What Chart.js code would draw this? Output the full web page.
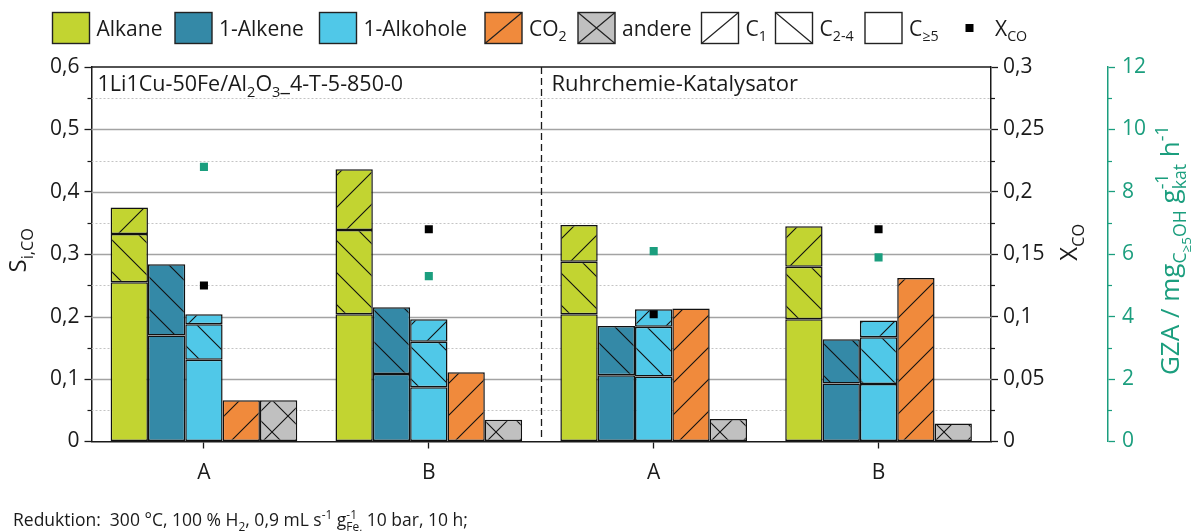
<!DOCTYPE html>
<html>
<head>
<meta charset="utf-8">
<script src="https://cdn.jsdelivr.net/npm/chart.js@4.4.1/dist/chart.umd.min.js"></script>
<style>
  html, body { margin: 0; padding: 0; background: #fff; overflow: hidden; }
  canvas { display: block; }
</style>
</head>
<body>
<canvas id="c" width="1195" height="531"></canvas>
<script>
// Categories: two tests (A, B) for each catalyst
const categories = ['A', 'B', 'A', 'B'];

// Selectivities S_i,CO split by carbon number
const alkaneC5  = [0.255, 0.204, 0.204, 0.196];
const alkaneC24 = [0.0775, 0.135, 0.084, 0.084];
const alkaneC1  = [0.0425, 0.097, 0.059, 0.065];

const alkeneC5  = [0.170, 0.108, 0.106, 0.093];
const alkeneC24 = [0.114, 0.107, 0.079, 0.071];

const alkoholC5  = [0.131, 0.087, 0.104, 0.092];
const alkoholC24 = [0.057, 0.073, 0.080, 0.075];
const alkoholC1  = [0.016, 0.036, 0.028, 0.027];

const co2    = [0.066, 0.111, 0.213, 0.262];
const andere = [0.066, 0.035, 0.036, 0.029];

// CO conversion (right axis) and space-time yield of C>=5 alcohols (green axis)
const xco = [0.125, 0.170, 0.102, 0.170];
const gza = [8.8, 5.3, 6.1, 5.9];

const FONT = '"Open Sans", "Noto Sans", sans-serif';
const INK = '#1a1a1a';
const GREEN = '#1b9e7e';
const COL = {
  alkane: '#c2d431',
  alkene: '#3489a7',
  alkohol: '#50c8e8',
  co2: '#f08a3c',
  andere: '#c0c0c0'
};

const canvas = document.getElementById('c');
const ctx0 = canvas.getContext('2d');

// Hatched fills: '/', '\\' or 'x' drawn on a repeating tile
function hatch(bg, kind) {
  const s = 32;
  const c = document.createElement('canvas');
  c.width = s; c.height = s;
  const g = c.getContext('2d');
  g.fillStyle = bg;
  g.fillRect(0, 0, s, s);
  g.strokeStyle = '#111';
  g.lineWidth = 1.1;
  g.beginPath();
  if (kind === '/' || kind === 'x') {
    g.moveTo(-2, s + 2); g.lineTo(s + 2, -2);
    g.moveTo(-2, 2); g.lineTo(2, -2);
    g.moveTo(s - 2, s + 2); g.lineTo(s + 2, s - 2);
  }
  if (kind === '\\' || kind === 'x') {
    g.moveTo(-2, -2); g.lineTo(s + 2, s + 2);
    g.moveTo(s - 2, -2); g.lineTo(s + 2, 2);
    g.moveTo(-2, s - 2); g.lineTo(2, s + 2);
  }
  g.stroke();
  return ctx0.createPattern(c, 'repeat');
}

// Rich text with sub-/superscripts
function segFont(px) { return px + 'px ' + FONT; }
function segWidth(ctx, seg, size) {
  if (typeof seg === 'string') { ctx.font = segFont(size); return ctx.measureText(seg).width; }
  let w = 0;
  if (seg.sub !== undefined) { ctx.font = segFont(size * 0.68); w = Math.max(w, ctx.measureText(seg.sub).width); }
  if (seg.sup !== undefined) { ctx.font = segFont(size * 0.68); w = Math.max(w, ctx.measureText(seg.sup).width); }
  if (seg.subsub !== undefined) { ctx.font = segFont(size * 0.52); w = Math.max(w, ctx.measureText(seg.subsub).width); }
  return w;
}
function richWidth(ctx, segs, size) {
  return segs.reduce((a, s) => a + segWidth(ctx, s, size), 0);
}
function drawRich(ctx, segs, x, y, size, color, align) {
  ctx.save();
  ctx.fillStyle = color;
  ctx.textBaseline = 'alphabetic';
  ctx.textAlign = 'left';
  let cx = x;
  if (align === 'center') cx -= richWidth(ctx, segs, size) / 2;
  for (const seg of segs) {
    const w = segWidth(ctx, seg, size);
    if (typeof seg === 'string') {
      ctx.font = segFont(size);
      ctx.fillText(seg, cx, y);
    } else {
      if (seg.sub !== undefined) { ctx.font = segFont(size * 0.68); ctx.fillText(seg.sub, cx, y + size * 0.28); }
      if (seg.sup !== undefined) { ctx.font = segFont(size * 0.68); ctx.fillText(seg.sup, cx, y - size * 0.42); }
      if (seg.subsub !== undefined) { ctx.font = segFont(size * 0.52); ctx.fillText(seg.subsub, cx, y + size * 0.45); }
    }
    cx += w;
  }
  ctx.restore();
}
function drawRichRotated(ctx, segs, x, y, size, color) {
  ctx.save();
  ctx.translate(x, y);
  ctx.rotate(-Math.PI / 2);
  drawRich(ctx, segs, 0, 0, size, color, 'center');
  ctx.restore();
}

function fmt(v) {
  if (Math.abs(v) < 1e-9) return '0';
  return String(+v.toFixed(3)).replace('.', ',');
}

// Grid lines, frame, separator and minor ticks
const decor = {
  id: 'decor',
  beforeDatasetsDraw(chart) {
    const { ctx, chartArea: a, scales } = chart;
    const y = scales.y;
    ctx.save();
    for (let i = 1; i <= 11; i++) {
      const v = i * 0.05;
      const py = Math.round(y.getPixelForValue(v)) + 0.5;
      ctx.beginPath();
      if (i % 2 === 0) {
        ctx.setLineDash([]);
        ctx.strokeStyle = '#a3a3a3';
        ctx.lineWidth = 1.4;
      } else {
        ctx.setLineDash([2, 2]);
        ctx.strokeStyle = '#c4c4c4';
        ctx.lineWidth = 1;
      }
      ctx.moveTo(a.left, py);
      ctx.lineTo(a.right, py);
      ctx.stroke();
    }
    ctx.restore();
  },
  afterDatasetsDraw(chart) {
    const { ctx, chartArea: a, scales } = chart;
    const x = scales.x, y = scales.y, yX = scales.yX, yG = scales.yG;
    ctx.save();
    // top frame
    ctx.strokeStyle = INK;
    ctx.lineWidth = 1.5;
    ctx.beginPath();
    ctx.moveTo(a.left, a.top);
    ctx.lineTo(a.right, a.top);
    ctx.stroke();
    // separator between the two catalysts
    const sx = Math.round((x.getPixelForValue(1) + x.getPixelForValue(2)) / 2) + 0.5;
    ctx.setLineDash([7, 4]);
    ctx.lineWidth = 1.3;
    ctx.beginPath();
    ctx.moveTo(sx, a.top);
    ctx.lineTo(sx, a.bottom);
    ctx.stroke();
    ctx.setLineDash([]);
    // minor ticks
    const minor = (scale, vals, dir, color) => {
      ctx.strokeStyle = color;
      ctx.lineWidth = 1.2;
      const x0 = dir < 0 ? scale.right : scale.left;
      for (const v of vals) {
        const py = Math.round(scale.getPixelForValue(v)) + 0.5;
        ctx.beginPath();
        ctx.moveTo(x0, py);
        ctx.lineTo(x0 + dir * 4, py);
        ctx.stroke();
      }
    };
    minor(y, [0.05, 0.15, 0.25, 0.35, 0.45, 0.55], -1, INK);
    minor(yX, [0.025, 0.075, 0.125, 0.175, 0.225, 0.275], 1, INK);
    minor(yG, [1, 3, 5, 7, 9, 11], 1, GREEN);

    // panel titles
    drawRich(ctx, ['1Li1Cu-50Fe/Al', { sub: '2' }, 'O', { sub: '3' }, '_4-T-5-850-0'], a.left + 6, a.top + 24, 21.5, INK, 'left');
    drawRich(ctx, ['Ruhrchemie-Katalysator'], sx + 10, a.top + 24, 22, INK, 'left');
    ctx.restore();
  },
  afterDraw(chart) {
    const { ctx, chartArea: a } = chart;
    ctx.save();
    // axis titles
    drawRichRotated(ctx, ['S', { sub: 'i,CO' }], 26, (a.top + a.bottom) / 2 - 4, 24, INK);
    drawRichRotated(ctx, ['X', { sub: 'CO' }], 1077, (a.top + a.bottom) / 2 - 12, 24, INK);
    drawRichRotated(ctx, ['GZA / mg', { sub: 'C' }, { subsub: '≥5' }, { sub: 'OH' }, ' g', { sub: 'kat', sup: '-1' }, ' h', { sup: '-1' }],
      1179, (a.top + a.bottom) / 2 - 4, 26, GREEN);

    // legend: swatch left edges along the top row
    const items = [
      { at: 52.5, fill: COL.alkane, text: ['Alkane'] },
      { at: 175, fill: COL.alkene, text: ['1-Alkene'] },
      { at: 319.5, fill: COL.alkohol, text: ['1-Alkohole'] },
      { at: 485, fill: COL.co2, lines: '/', text: ['CO', { sub: '2' }] },
      { at: 578, fill: COL.andere, lines: 'x', text: ['andere'] },
      { at: 701.5, fill: '#ffffff', lines: '/', text: ['C', { sub: '1' }] },
      { at: 775.5, fill: '#ffffff', lines: '\\', text: ['C', { sub: '2-4' }] },
      { at: 865, fill: '#ffffff', text: ['C', { sub: '≥5' }] },
      { at: 952, marker: true, text: ['X', { sub: 'CO' }] }
    ];
    const sw = 37, sh = 31, top = 12.5, size = 21;
    for (const it of items) {
      const lx = it.at;
      if (it.marker) {
        ctx.fillStyle = '#000';
        ctx.fillRect(lx + 17.5 - 4, top + sh / 2 - 4, 8, 8);
        drawRich(ctx, it.text, lx + 43, top + sh / 2 + 7.5, size, INK, 'left');
        continue;
      }
      ctx.fillStyle = it.fill;
      ctx.fillRect(lx, top, sw, sh);
      ctx.strokeStyle = '#222';
      ctx.lineWidth = 1.2;
      ctx.beginPath();
      if (it.lines === '/' || it.lines === 'x') { ctx.moveTo(lx, top + sh); ctx.lineTo(lx + sw, top); }
      if (it.lines === '\\' || it.lines === 'x') { ctx.moveTo(lx, top); ctx.lineTo(lx + sw, top + sh); }
      ctx.stroke();
      ctx.lineWidth = 1.4;
      ctx.strokeRect(lx, top, sw, sh);
      drawRich(ctx, it.text, lx + sw + 7, top + sh / 2 + 7.5, size, INK, 'left');
    }

    // footnote
    drawRich(ctx, ['Reduktion:  300 °C, 100 % H', { sub: '2' }, ', 0,9 mL s', { sup: '-1' }, ' g', { sub: 'Fe,', sup: '-1' }, ' 10 bar, 10 h;'],
      13, 526, 17.5, INK, 'left');
    ctx.restore();
  }
};

const bar = { type: 'bar', borderColor: '#111', borderWidth: 1.5, borderSkipped: false, yAxisID: 'y', order: 2 };

const data = {
  labels: categories,
  datasets: [
    { ...bar, label: 'Alkane C≥5', data: alkaneC5, stack: 'alkane', backgroundColor: COL.alkane },
    { ...bar, label: 'Alkane C2-4', data: alkaneC24, stack: 'alkane', backgroundColor: hatch(COL.alkane, '\\') },
    { ...bar, label: 'Alkane C1', data: alkaneC1, stack: 'alkane', backgroundColor: hatch(COL.alkane, '/') },
    { ...bar, label: '1-Alkene C≥5', data: alkeneC5, stack: 'alkene', backgroundColor: COL.alkene },
    { ...bar, label: '1-Alkene C2-4', data: alkeneC24, stack: 'alkene', backgroundColor: hatch(COL.alkene, '\\') },
    { ...bar, label: '1-Alkohole C≥5', data: alkoholC5, stack: 'alkohol', backgroundColor: COL.alkohol },
    { ...bar, label: '1-Alkohole C2-4', data: alkoholC24, stack: 'alkohol', backgroundColor: hatch(COL.alkohol, '\\') },
    { ...bar, label: '1-Alkohole C1', data: alkoholC1, stack: 'alkohol', backgroundColor: hatch(COL.alkohol, '/') },
    { ...bar, label: 'CO2', data: co2, stack: 'co2', backgroundColor: hatch(COL.co2, '/') },
    { ...bar, label: 'andere', data: andere, stack: 'andere', backgroundColor: hatch(COL.andere, 'x') },
    { type: 'line', label: 'X_CO', data: xco, yAxisID: 'yX', showLine: false, pointStyle: 'rect',
      pointRadius: 5.7, pointHoverRadius: 5.7, pointBorderWidth: 0, backgroundColor: '#000', borderColor: '#000', order: 0 },
    { type: 'line', label: 'GZA', data: gza, yAxisID: 'yG', showLine: false, pointStyle: 'rect',
      pointRadius: 5.7, pointHoverRadius: 5.7, pointBorderWidth: 0, backgroundColor: GREEN, borderColor: GREEN, order: 0 }
  ]
};

const tickFont = { family: FONT, size: 21 };

new Chart(canvas, {
  data,
  options: {
    responsive: false,
    animation: false,
    devicePixelRatio: 1,
    layout: { padding: { top: 67, left: 0, right: 0, bottom: 0 } },
    datasets: { bar: { categoryPercentage: 0.83, barPercentage: 1.0 } },
    plugins: { legend: { display: false }, tooltip: { enabled: false } },
    scales: {
      x: {
        stacked: true,
        grid: { drawOnChartArea: false, offset: false, tickLength: 7, tickColor: INK, tickWidth: 1.3 },
        border: { color: INK, width: 1.5 },
        ticks: { color: INK, font: tickFont, padding: 12 },
        afterFit: s => { s.height = 89.5; }
      },
      y: {
        position: 'left', stacked: true, min: 0, max: 0.6,
        ticks: { stepSize: 0.1, color: INK, font: tickFont, padding: 5, callback: v => fmt(v) },
        grid: { drawOnChartArea: false, tickLength: 7, tickColor: INK, tickWidth: 1.3 },
        border: { color: INK, width: 1.5 },
        afterFit: s => { s.width = 91.5; }
      },
      yX: {
        position: 'right', weight: 0, min: 0, max: 0.3,
        ticks: { stepSize: 0.05, color: INK, font: tickFont, padding: 5, callback: v => fmt(v) },
        grid: { drawOnChartArea: false, tickLength: 7, tickColor: INK, tickWidth: 1.3 },
        border: { color: INK, width: 1.5 },
        afterFit: s => { s.width = 117; }
      },
      yG: {
        position: 'right', weight: 1, min: 0, max: 12,
        ticks: { stepSize: 2, color: GREEN, font: tickFont, padding: 7, callback: v => fmt(v) },
        grid: { drawOnChartArea: false, tickLength: 7, tickColor: GREEN, tickWidth: 1.3 },
        border: { color: GREEN, width: 1.5 },
        afterFit: s => { s.width = 87; }
      }
    }
  },
  plugins: [decor]
});
</script>
</body>
</html>
